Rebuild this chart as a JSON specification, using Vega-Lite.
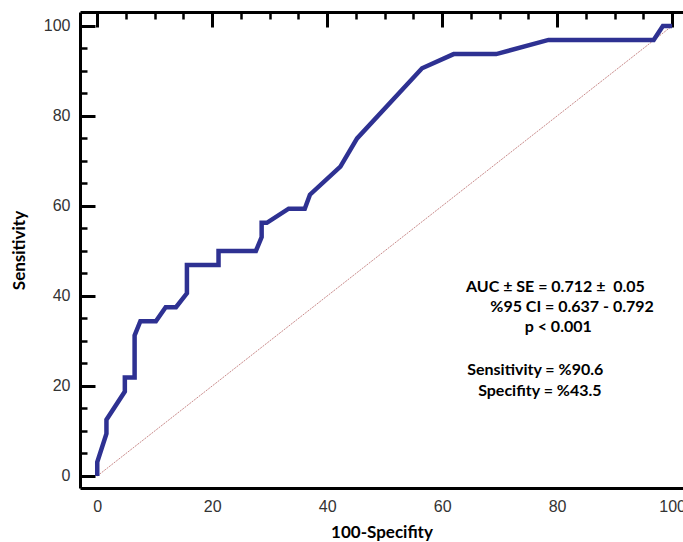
{
  "$schema": "https://vega.github.io/schema/vega-lite/v6.json",
  "autosize": "none",
  "width": 603,
  "height": 476,
  "padding": {"left": 80, "top": 12, "right": 0, "bottom": 54},
  "background": "white",
  "config": {"view": {"stroke": null}},
  "datasets": {
    "roc": [
      {"i": 0, "fpr": 0, "tpr": 0},
      {"i": 1, "fpr": 0, "tpr": 3.1},
      {"i": 2, "fpr": 1.6, "tpr": 9.4},
      {"i": 3, "fpr": 1.6, "tpr": 12.5},
      {"i": 4, "fpr": 4.8, "tpr": 18.75},
      {"i": 5, "fpr": 4.8, "tpr": 21.9},
      {"i": 6, "fpr": 6.5, "tpr": 21.9},
      {"i": 7, "fpr": 6.5, "tpr": 31.25},
      {"i": 8, "fpr": 7.5, "tpr": 34.4},
      {"i": 9, "fpr": 10.2, "tpr": 34.4},
      {"i": 10, "fpr": 11.9, "tpr": 37.5},
      {"i": 11, "fpr": 13.7, "tpr": 37.5},
      {"i": 12, "fpr": 15.6, "tpr": 40.6},
      {"i": 13, "fpr": 15.6, "tpr": 46.9},
      {"i": 14, "fpr": 21.1, "tpr": 46.9},
      {"i": 15, "fpr": 21.1, "tpr": 50},
      {"i": 16, "fpr": 27.6, "tpr": 50},
      {"i": 17, "fpr": 28.6, "tpr": 53.1},
      {"i": 18, "fpr": 28.6, "tpr": 56.25},
      {"i": 19, "fpr": 29.5, "tpr": 56.25},
      {"i": 20, "fpr": 33.3, "tpr": 59.4},
      {"i": 21, "fpr": 36.1, "tpr": 59.4},
      {"i": 22, "fpr": 37.0, "tpr": 62.5},
      {"i": 23, "fpr": 42.3, "tpr": 68.75},
      {"i": 24, "fpr": 45.2, "tpr": 75},
      {"i": 25, "fpr": 56.5, "tpr": 90.6},
      {"i": 26, "fpr": 62.0, "tpr": 93.75},
      {"i": 27, "fpr": 69.4, "tpr": 93.75},
      {"i": 28, "fpr": 78.5, "tpr": 96.9},
      {"i": 29, "fpr": 96.8, "tpr": 96.9},
      {"i": 30, "fpr": 98.4, "tpr": 100},
      {"i": 31, "fpr": 100, "tpr": 100}
    ],
    "diag": [
      {"fpr": 0, "tpr": 0},
      {"fpr": 100, "tpr": 100}
    ],
    "notes": [
      {"text": "AUC ± SE = 0.712 ±\u00a0 0.05", "fpr": 79.7, "tpr": 42.0},
      {"text": "%95 CI = 0.637 - 0.792", "fpr": 82.6, "tpr": 37.5},
      {"text": "p < 0.001", "fpr": 80.2, "tpr": 33.0},
      {"text": "Sensitivity = %90.6", "fpr": 76.2, "tpr": 23.5},
      {"text": "Specifity = %43.5", "fpr": 77.0, "tpr": 18.8}
    ]
  },
  "resolve": {"axis": {"x": "independent", "y": "independent"}},
  "layer": [
    {
      "data": {"name": "diag"},
      "mark": {"type": "line", "color": "#c98a8a", "strokeWidth": 1, "strokeDash": [2, 1]},
      "encoding": {
        "x": {"field": "fpr", "type": "quantitative", "scale": {"domain": [-3, 101.9], "nice": false, "zero": false},
              "axis": {"orient": "top", "labels": false, "ticks": false, "grid": false, "title": null, "domainColor": "black", "domainWidth": 3}},
        "y": {"field": "tpr", "type": "quantitative", "scale": {"domain": [-2.67, 103.1], "nice": false, "zero": false}, "axis": null}
      }
    },
    {
      "data": {"name": "roc"},
      "mark": {"type": "line", "color": "#2e3192", "strokeWidth": 4.5, "strokeJoin": "miter"},
      "encoding": {
        "order": {"field": "i", "type": "quantitative"},
        "x": {"field": "fpr", "type": "quantitative", "scale": {"domain": [-3, 101.9], "nice": false, "zero": false},
              "axis": {"orient": "bottom", "title": "100-Specifity", "ticks": false,
                       "grid": true, "gridColor": "black", "gridWidth": 3, "gridOpacity": 1, "gridDash": [15, 2000],
                       "values": [0, 20, 40, 60, 80, 100], "domainColor": "black", "domainWidth": 3,
                       "labelPadding": 10, "labelFont": "Liberation Sans", "labelFontSize": 16, "labelColor": "#333",
                       "titleFont": "Lato", "titleFontWeight": "bold", "titleFontSize": 17, "titleColor": "black", "titlePadding": 10}},
        "y": {"field": "tpr", "type": "quantitative", "scale": {"domain": [-2.67, 103.1], "nice": false, "zero": false},
              "axis": {"orient": "left", "title": "Sensitivity", "ticks": false,
                       "grid": true, "gridColor": "black", "gridWidth": 3, "gridOpacity": 1, "gridDash": [15, 2000],
                       "values": [0, 20, 40, 60, 80, 100], "domainColor": "black", "domainWidth": 3,
                       "labelPadding": 10, "labelFont": "Liberation Sans", "labelFontSize": 16, "labelColor": "#333",
                       "titleFont": "Lato", "titleFontWeight": "bold", "titleFontSize": 17, "titleColor": "black", "titlePadding": 15}}
      }
    },
    {
      "data": {"name": "notes"},
      "mark": {"type": "text", "font": "Lato", "fontWeight": "bold", "fontSize": 16, "color": "black", "align": "center", "baseline": "middle"},
      "encoding": {
        "x": {"field": "fpr", "type": "quantitative", "scale": {"domain": [-3, 101.9], "nice": false, "zero": false},
              "axis": {"orient": "bottom", "labels": false, "domain": false, "ticks": false, "title": null,
                       "grid": true, "gridColor": "black", "gridWidth": 2.5, "gridOpacity": 1, "gridDash": [7, 2000],
                       "values": [5, 10, 15, 25, 30, 35, 45, 50, 55, 65, 70, 75, 85, 90, 95]}},
        "y": {"field": "tpr", "type": "quantitative", "scale": {"domain": [-2.67, 103.1], "nice": false, "zero": false},
              "axis": {"orient": "left", "labels": false, "domain": false, "ticks": false, "title": null,
                       "grid": true, "gridColor": "black", "gridWidth": 2.5, "gridOpacity": 1, "gridDash": [7, 2000],
                       "values": [5, 10, 15, 25, 30, 35, 45, 50, 55, 65, 70, 75, 85, 90, 95]}},
        "text": {"field": "text"}
      }
    }
  ]
}
